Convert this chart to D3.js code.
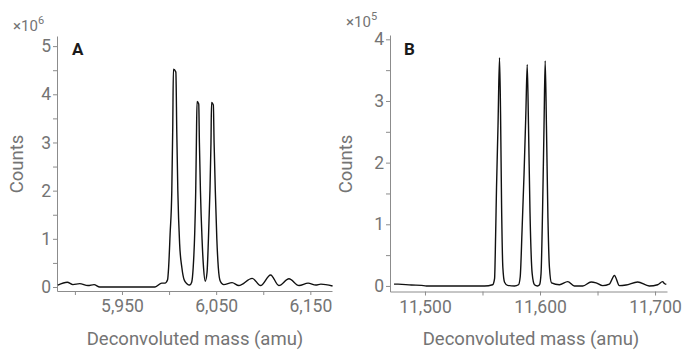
<!DOCTYPE html>
<html>
<head>
<meta charset="utf-8">
<script src="https://cdn.jsdelivr.net/npm/d3@7"></script>
<style>
  body { margin: 0; background: #fff; }
  svg text { font-family: Roboto, "Noto Sans", sans-serif; }
</style>
</head>
<body>
<script>
// panel A: mass (amu) and counts (x10^6)
const massA = [5881.9, 5891.9, 5897.9, 5905.0, 5913.9, 5920.3, 5926.4, 5985.1, 5992.2, 5995.7,
  5998.4, 5999.5, 6001.1, 6002.9, 6003.9, 6004.6, 6007.2, 6008.2, 6009.3, 6011.2,
  6013.6, 6016.0, 6018.9, 6021.9, 6024.0, 6025.6, 6027.2, 6028.3, 6029.0, 6029.7,
  6031.5, 6032.2, 6033.3, 6035.0, 6036.6, 6038.4, 6040.3, 6041.8, 6043.4, 6044.5,
  6045.1, 6047.0, 6047.8, 6049.1, 6050.7, 6052.3, 6054.4, 6058.0, 6066.9, 6074.0,
  6088.3, 6097.1, 6107.8, 6116.6, 6127.3, 6138.0, 6147.6, 6155.8, 6161.2, 6173.6];
const countsA = [0.04, 0.10, 0.05, 0.07, 0.03, 0.05, 0.0, 0.0, 0.08, 0.08,
  0.15, 0.4, 1.1, 2.0, 3.3, 4.52, 4.46, 3.2, 2.0, 0.9,
  0.4, 0.15, 0.07, 0.04, 0.1, 0.4, 1.1, 2.0, 3.0, 3.85,
  3.80, 3.0, 2.0, 1.0, 0.4, 0.12, 0.3, 1.0, 2.0, 3.0,
  3.83, 3.78, 3.0, 2.0, 1.0, 0.4, 0.12, 0.05, 0.09, 0.03,
  0.18, 0.03, 0.25, 0.03, 0.17, 0.03, 0.08, 0.04, 0.06, 0.02];

// panel B: mass (amu) and counts (x10^5)
const massB = [11473.1, 11476.6, 11488.2, 11496.9, 11501.2, 11551.8, 11558.8, 11560.5, 11561.4, 11562.2,
  11563.5, 11564.8, 11565.7, 11566.6, 11567.7, 11569.2, 11571.8, 11577.9, 11581.3, 11582.8,
  11584.4, 11586.1, 11587.7, 11588.9, 11590.0, 11591.3, 11593.2, 11595.2, 11597.8, 11599.6,
  11600.9, 11602.2, 11603.5, 11604.5, 11605.6, 11606.9, 11608.2, 11610.0, 11616.9, 11624.1,
  11629.9, 11637.2, 11644.4, 11648.8, 11654.5, 11660.3, 11664.7, 11669.0, 11674.8, 11684.9,
  11695.0, 11702.3, 11706.6, 11708.1, 11709.8];
const countsB = [0.03, 0.03, 0.015, 0.01, 0.0, 0.0, 0.02, 0.12, 0.8, 1.6,
  2.6, 3.70, 2.8, 1.3, 0.3, 0.06, 0.01, 0.0, 0.02, 0.15,
  0.9, 1.8, 2.8, 3.59, 2.6, 1.2, 0.2, 0.02, 0.0, 0.02,
  0.2, 1.2, 2.6, 3.65, 2.6, 1.1, 0.3, 0.05, 0.02, 0.07,
  0.0, 0.0, 0.065, 0.05, 0.005, 0.03, 0.17, 0.005, 0.015, 0.065,
  0.0, 0.02, 0.07, 0.04, 0.025];

const xTicksA = [5900, 5950, 6000, 6050, 6100, 6150];
const xLabelsA = [5950, 6050, 6150];
const xTicksB = [11500, 11550, 11600, 11650, 11700];
const xLabelsB = [11500, 11600, 11700];
const yTicksA = [0, 0.5, 1, 1.5, 2, 2.5, 3, 3.5, 4, 4.5, 5];
const yTicksB = [0, 0.5, 1, 1.5, 2, 2.5, 3, 3.5, 4];

const panels = [
  { letter: "A", exp: "6", mass: massA, counts: countsA, xDom: [5881, 6173], xRange: [57, 332],
    yDom: [-0.083, 5.21], yRange: [291, 36], xTicks: xTicksA, xLabels: xLabelsA, yTicks: yTicksA,
    countsX: 17, titleX: 195, expX: 13, expY: 31, letterX: 72 },
  { letter: "B", exp: "5", mass: massB, counts: countsB, xDom: [11469.6, 11710.4], xRange: [390, 667],
    yDom: [-0.09, 4.07], yRange: [291.5, 35], xTicks: xTicksB, xLabels: xLabelsB, yTicks: yTicksB,
    countsX: 346, titleX: 531, expX: 346, expY: 27, letterX: 404 }
];

const GREY = "#747474";
const svg = d3.select("body").append("svg")
  .attr("width", 685)
  .attr("height", 353);

const fmt = d3.format(",");

panels.forEach(p => {
  const x = d3.scaleLinear().domain(p.xDom).range(p.xRange);
  const y = d3.scaleLinear().domain(p.yDom).range(p.yRange);
  const g = svg.append("g");

  const xAxis = g.append("g")
    .attr("transform", `translate(0,${p.yRange[0]})`)
    .call(d3.axisBottom(x).tickValues(p.xTicks).tickSize(4).tickSizeOuter(0).tickPadding(5)
      .tickFormat(d => p.xLabels.includes(d) ? fmt(d) : ""));

  const yAxis = g.append("g")
    .attr("transform", `translate(${p.xRange[0]},0)`)
    .call(d3.axisLeft(y).tickValues(p.yTicks).tickSize(4).tickSizeOuter(0).tickPadding(2)
      .tickFormat(d => Number.isInteger(d) ? d : ""));

  [xAxis, yAxis].forEach(a => {
    a.select(".domain").attr("stroke", "#8c8c8c");
    a.selectAll(".tick line").attr("stroke", "#8c8c8c");
    a.selectAll(".tick text").attr("fill", GREY).style("font-size", "17.5px");
  });

  const line = d3.line()
    .x((d, i) => x(p.mass[i]))
    .y(d => y(d))
    .curve(d3.curveMonotoneX);

  g.append("path")
    .datum(p.counts)
    .attr("fill", "none")
    .attr("stroke", "#111")
    .attr("stroke-width", 1.4)
    .attr("d", line);

  g.append("text")
    .attr("transform", `translate(${p.countsX},${164}) rotate(-90)`)
    .attr("text-anchor", "middle")
    .attr("dy", "0.35em")
    .attr("fill", GREY)
    .style("font-size", "18.5px")
    .text("Counts");

  g.append("text")
    .attr("x", p.titleX)
    .attr("y", 345)
    .attr("text-anchor", "middle")
    .attr("fill", GREY)
    .style("font-size", "18.5px")
    .text("Deconvoluted mass (amu)");

  const e = g.append("text")
    .attr("x", p.expX)
    .attr("y", p.expY)
    .attr("fill", GREY)
    .style("font-size", "15px");
  e.append("tspan").text("×10");
  e.append("tspan").attr("dy", -7).style("font-size", "11px").text(p.exp);

  g.append("text")
    .attr("x", p.letterX)
    .attr("y", 55)
    .attr("fill", "#1a1a1a")
    .style("font-size", "17px")
    .style("font-weight", "bold")
    .text(p.letter);
});
</script>
</body>
</html>
